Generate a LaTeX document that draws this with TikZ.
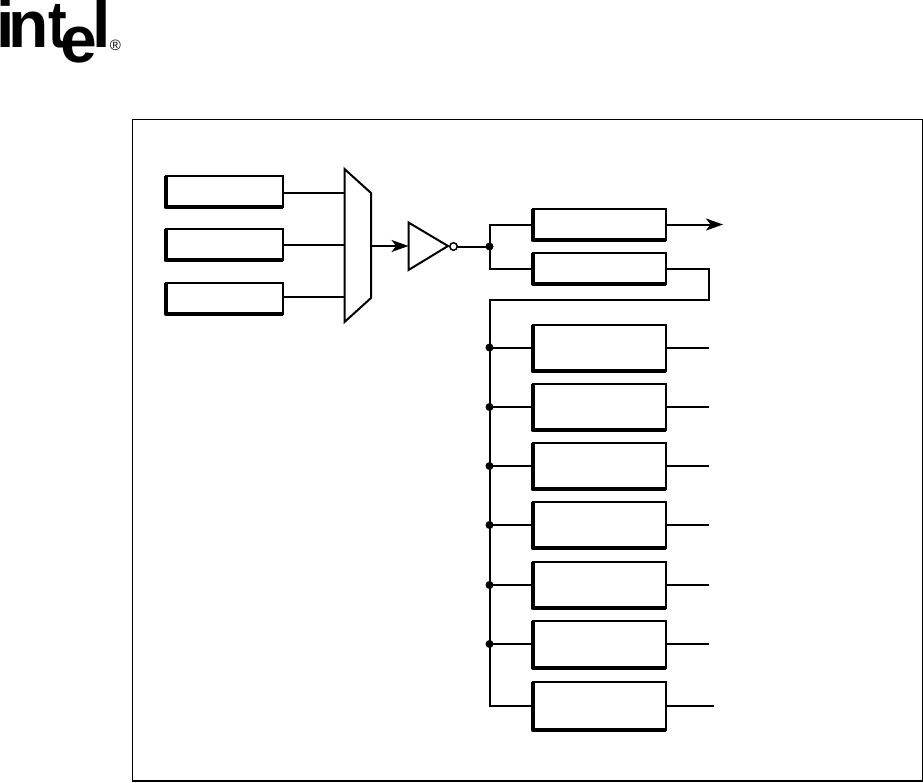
\documentclass[tikz,border=0pt]{standalone}
\usepackage{fontspec}
\usepackage{graphicx}
\setmainfont{Liberation Sans}
\usetikzlibrary{arrows.meta}
\tikzset{
  boxnode/.style={draw=black,line width=2pt,fill=white,inner sep=0pt,outer sep=0pt,anchor=center},
  wire/.style={draw=black,line width=2pt},
  heavyedge/.style={draw=black,line width=4pt,line cap=butt,line join=round},
  solder/.style={circle,fill=black,inner sep=0pt,outer sep=0pt,minimum size=8pt},
  bubble/.style={circle,draw=black,fill=white,line width=1.5pt,inner sep=0pt,outer sep=0pt,minimum size=7.5pt},
  flow/.style={wire,-{Stealth[length=17pt,width=12pt,inset=4.5pt]}},
  logo/.style={inner sep=0pt,outer sep=0pt,anchor=base west,font=\bfseries\fontsize{66}{66}\selectfont}
}
\newcommand{\pbox}[5]{%
  \node[boxnode,minimum width=#4pt-#2pt-1.75pt,minimum height=#5pt-#3pt-1.75pt] (#1) at ({(#2+#4)/2-0.125},{(#3+#5)/2-0.875}) {};
  \draw[heavyedge] (#1.north west) -- (#1.south west) -- (#1.south east);
}
\begin{document}
\begin{tikzpicture}[x=1pt,y=-1pt]
\useasboundingbox (0,0) rectangle (923,782);
\fill[white] (0,0) rectangle (923,782);
% logo
\begin{scope}
\clip (0,0) rectangle (923,782);
\node[logo] (li) at (-3.5,47.7) {i};
\node[logo] (ln) at (9,47.7) {n};
\node[logo] (lt) at (48.5,47.7) {\scalebox{0.85}[1]{t}};
\node[logo] (le) at (60.5,62.5) {e};
\node[logo] (ll) at (92.5,47.7) {l};
\end{scope}
\node[font=\fontsize{15}{15}\selectfont,inner sep=0pt] (lr) at (115.5,45.5) {®};
% frame
\node[draw=black,line width=1.3pt,minimum width=790pt,minimum height=661.5pt,inner sep=0pt,outer sep=0pt,anchor=north west] (frame) at (132.5,119.5) {};
% left boxes
\pbox{a1}{165}{176}{283.5}{209}
\pbox{a2}{165}{229}{283.5}{262}
\pbox{a3}{165}{283}{283.5}{315.5}
% mux
\coordinate (m1) at (344.5,169);
\coordinate (m2) at (371,193);
\coordinate (m3) at (371,298);
\coordinate (m4) at (344.5,322);
\draw[wire,line join=miter] (m1) -- (m2) -- (m3) -- (m4) -- cycle;
\coordinate (ma) at (344.5,193);
\coordinate (mb) at (344.5,245);
\coordinate (mc) at (344.5,297);
\coordinate (mo) at (371,246);
\draw[wire] (a1.east |- ma) -- (ma);
\draw[wire] (a2.east |- mb) -- (mb);
\draw[wire] (a3.east |- mc) -- (mc);
% inverter
\coordinate (t1) at (408.5,222.5);
\coordinate (t2) at (448,246);
\coordinate (t3) at (408.5,270);
\coordinate (ti) at (408.5,246);
\draw[wire,line join=miter] (t1) -- (t2) -- (t3) -- cycle;
\draw[flow] (mo) -- (ti);
\node[bubble] (inv) at (453.5,246.5) {};
% right boxes
\pbox{b1}{532}{208.5}{666.5}{242}
\pbox{b2}{532}{252.5}{666.5}{285.5}
\pbox{c1}{532}{324.5}{666.5}{373}
\pbox{c2}{532}{384}{666.5}{432}
\pbox{c3}{532}{443}{666.5}{491}
\pbox{c4}{532}{502}{666.5}{550}
\pbox{c5}{532}{562}{666.5}{610}
\pbox{c6}{532}{620.5}{666.5}{669.5}
\pbox{c7}{532}{682}{666.5}{731.5}
% junctions
\node[solder] (j0) at (489.5,246.5) {};
\node[solder] (j1) at (489.5,347.5) {};
\node[solder] (j2) at (489.5,407) {};
\node[solder] (j3) at (489.5,466) {};
\node[solder] (j4) at (489.5,525) {};
\node[solder] (j5) at (489.5,585) {};
\node[solder] (j6) at (489.5,644) {};
\coordinate (bend) at (709,300);
\coordinate (arrowend) at (723,224.5);
\coordinate (upper) at (500,224.5);
\coordinate (lower) at (500,269);
\coordinate (last) at (500,705.5);
% wires
\draw[wire] (inv) -- (j0);
\draw[wire] (j0.center) |- (b1.west |- upper);
\draw[wire] (j0.center) |- (b2.west |- lower);
\draw[flow] (b1.east |- upper) -- (arrowend);
\draw[wire,line join=miter] (b2.east |- lower) -| (bend) -| (last -| j0) -- (c7.west |- last);
\foreach \n in {1,...,6} {
  \coordinate (e\n) at (709,0);
  \draw[wire] (j\n.center) -- (c\n.west |- j\n);
  \draw[wire] (c\n.east |- j\n) -- (e\n |- j\n);
}
\coordinate (e7) at (714,0);
\draw[wire] (c7.east |- last) -- (e7 |- last);
\end{tikzpicture}
\end{document}
